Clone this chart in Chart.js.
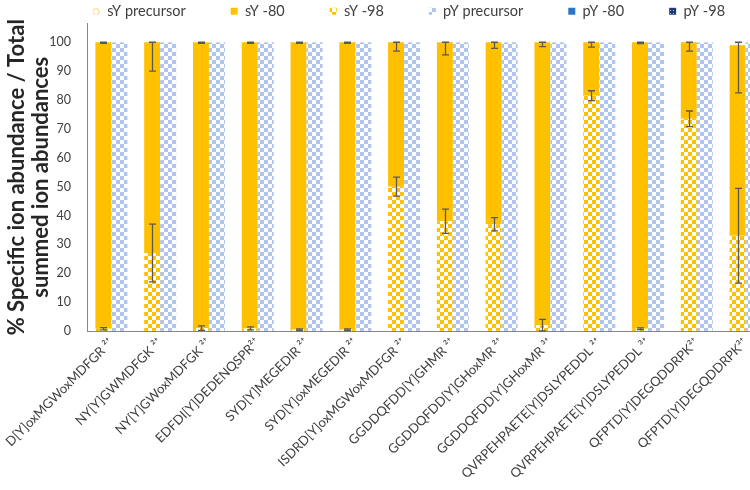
<!DOCTYPE html>
<html><head><meta charset="utf-8">
<script src="https://cdn.jsdelivr.net/npm/chart.js@4.4.1/dist/chart.umd.min.js"></script>
<style>
html,body{margin:0;padding:0;overflow:hidden;background:#fff;width:750px;height:490px}
#wrap{position:relative;width:772px;height:490px}
</style></head><body>
<div id="wrap"><canvas id="c" width="772" height="490"></canvas></div>
<script>
const categories = [
  "D[Y]oxMGWoxMDFGR ²⁺", "NY[Y]GWMDFGK ²⁺", "NY[Y]GWoxMDFGK ²⁺", "EDFDI[Y]DEDENQSPR²⁺",
  "SYD[Y]MEGEDIR ²⁺", "SYD[Y]oxMEGEDIR ²⁺", "ISDRD[Y]oxMGWoxMDFGR ²⁺", "GGDDQFDD[Y]GHMR ²⁺",
  "GGDDQFDD[Y]GHoxMR ²⁺", "GGDDQFDD[Y]GHoxMR ³⁺", "QVRPEHPAETE[Y]DSLYPEDDL ²⁺",
  "QVRPEHPAETE[Y]DSLYPEDDL ³⁺", "QFPTD[Y]DEGQDDRPK²⁺", "QFPTD[Y]DEGQDDRPK³⁺"
];
const yTicks = [0, 10, 20, 30, 40, 50, 60, 70, 80, 90, 100];

const sYprecursor = [0, 0, 0, 0, 0, 0, 0, 0, 0, 0, 0, 0, 0, 0];
const sY98 = [0.8, 27, 1, 0.9, 0.4, 0.4, 50, 38, 37, 2, 81.5, 0.8, 73.5, 33];
const sY80 = [99.2, 73, 99, 99.1, 99.6, 99.6, 50, 62, 63, 98, 18.5, 99.2, 26.5, 66];
const pYprecursor = [100, 100, 100, 100, 100, 100, 100, 100, 100, 100, 100, 100, 100, 100];
const pY80 = [0, 0, 0, 0, 0, 0, 0, 0, 0, 0, 0, 0, 0, 0];
const pY98 = [0, 0, 0, 0, 0, 0, 0, 0, 0, 0, 0, 0, 0, 0];

const sY98Err = [0.4, 10, 0.8, 0.5, 0.3, 0.3, 3.3, 4.2, 2.3, 2, 1.7, 0.3, 2.7, 16.4];
const sY80Err = [0.4, 10, 0.4, 0.4, 0.4, 0.4, 3.1, 4.4, 2.1, 1.5, 1.7, 0.5, 3.1, 16.5];

const canvas = document.getElementById('c');
const ctx0 = canvas.getContext('2d');
function pattern(size, draw) {
  const t = document.createElement('canvas');
  t.width = t.height = size;
  const g = t.getContext('2d');
  g.fillStyle = '#ffffff'; g.fillRect(0, 0, size, size);
  draw(g, size);
  return ctx0.createPattern(t, 'repeat');
}
const yellowChecker = pattern(8, (g) => { g.fillStyle = '#FFC000'; g.fillRect(0,0,4,4); g.fillRect(4,4,4,4); });
const blueChecker = pattern(8, (g) => { g.fillStyle = '#AFC5EE'; g.fillRect(0,0,4,4); g.fillRect(4,4,4,4); });
const yellowCross = pattern(8, (g) => { g.strokeStyle = '#FFE38C'; g.lineWidth = 1.5; g.beginPath(); g.moveTo(0,0); g.lineTo(8,8); g.moveTo(8,0); g.lineTo(0,8); g.stroke(); });
const navyDots = pattern(3, (g) => { g.fillStyle = '#1F3C78'; g.fillRect(0,0,3,3); g.fillStyle = '#9fb3dd'; g.fillRect(1,1,1,1); });

const errorsByLabel = { 'sY -98': sY98Err, 'sY -80': sY80Err };

const errorBars = {
  id: 'errorBars',
  afterDatasetsDraw(chart) {
    const ctx = chart.ctx, ys = chart.scales.y;
    ctx.save();
    ctx.strokeStyle = '#595959';
    ctx.lineWidth = 1.3;
    chart.data.datasets.forEach((ds, di) => {
      const err = errorsByLabel[ds.label];
      if (!err) return;
      const meta = chart.getDatasetMeta(di);
      meta.data.forEach((bar, i) => {
        const e = err[i];
        if (e == null) return;
        const v = ys.getValueForPixel(bar.y);
        const lo = ys.getPixelForValue(Math.max(v - e, 0));
        const hi = ys.getPixelForValue(Math.min(v + e, 100));
        const x = Math.round(bar.x) + 0.5, cw = 3.5;
        ctx.beginPath();
        ctx.moveTo(x, lo); ctx.lineTo(x, hi);
        ctx.moveTo(x - cw, lo); ctx.lineTo(x + cw, lo);
        ctx.moveTo(x - cw, hi); ctx.lineTo(x + cw, hi);
        ctx.stroke();
      });
    });
    ctx.restore();
  }
};

const legendPlace = {
  id: 'legendPlace',
  afterLayout(chart) {
    const lg = chart.legend;
    if (!lg) return;
    const dx = 48;
    lg.left += dx; lg.right += dx;
    lg.top = -41; lg.bottom = 40;
  }
};

const mk = (label, data, bg, stack, order) => ({
  label, data, backgroundColor: bg, stack, order, borderWidth: 0,
  categoryPercentage: 0.656, barPercentage: 1.0
});

new Chart(canvas, {
  type: 'bar',
  data: {
    labels: categories,
    datasets: [
      mk('sY precursor', sYprecursor, yellowCross, 'sY', 2),
      mk('sY -80', sY80, '#FFC000', 'sY', 1),
      mk('sY -98', sY98, yellowChecker, 'sY', 0),
      mk('pY precursor', pYprecursor, blueChecker, 'pY', 0),
      mk('pY -80', pY80, '#2E75C4', 'pY', 1),
      mk('pY -98', pY98, navyDots, 'pY', 2)
    ]
  },
  options: {
    responsive: false,
    animation: false,
    layout: { padding: { left: 0, right: 2, top: 0, bottom: 0 } },
    plugins: {
      legend: {
        position: 'top',
        align: 'start',
        maxHeight: 22,
        labels: {
          boxWidth: 7, boxHeight: 7, padding: 45,
          color: '#404040',
          font: { family: 'Lato', size: 14.5 },
          sort: (a, b) => a.datasetIndex - b.datasetIndex
        }
      },
      tooltip: { enabled: false }
    },
    scales: {
      x: {
        stacked: true,
        grid: { display: false, drawTicks: false },
        border: { display: true, color: '#868686', width: 1 },
        ticks: {
          autoSkip: false, maxRotation: 45, minRotation: 45, padding: 4,
          color: '#404040', font: { family: 'Lato', size: 13 }
        },
        afterFit(s) { s.height = 159; s.paddingLeft = 0; s.paddingRight = 0; }
      },
      y: {
        stacked: true,
        min: 0, max: 106.5,
        grid: { display: false, drawTicks: false },
        border: { display: true, color: '#868686', width: 1 },
        ticks: { padding: 16, color: '#404040', font: { family: 'Lato', size: 12.5 } },
        afterBuildTicks(axis) { axis.ticks = yTicks.map(v => ({ value: v })); },
        title: {
          display: true,
          text: ['% Specific ion abundance / Total', 'summed ion abundances'],
          color: '#262626',
          font: { family: 'Lato', size: 22, weight: 'bold', lineHeight: 1.1 },
          padding: { top: 5, bottom: 0 }
        },
        afterFit(s) { s.width = 87; }
      }
    }
  },
  plugins: [errorBars, legendPlace]
});
</script>
</body></html>
